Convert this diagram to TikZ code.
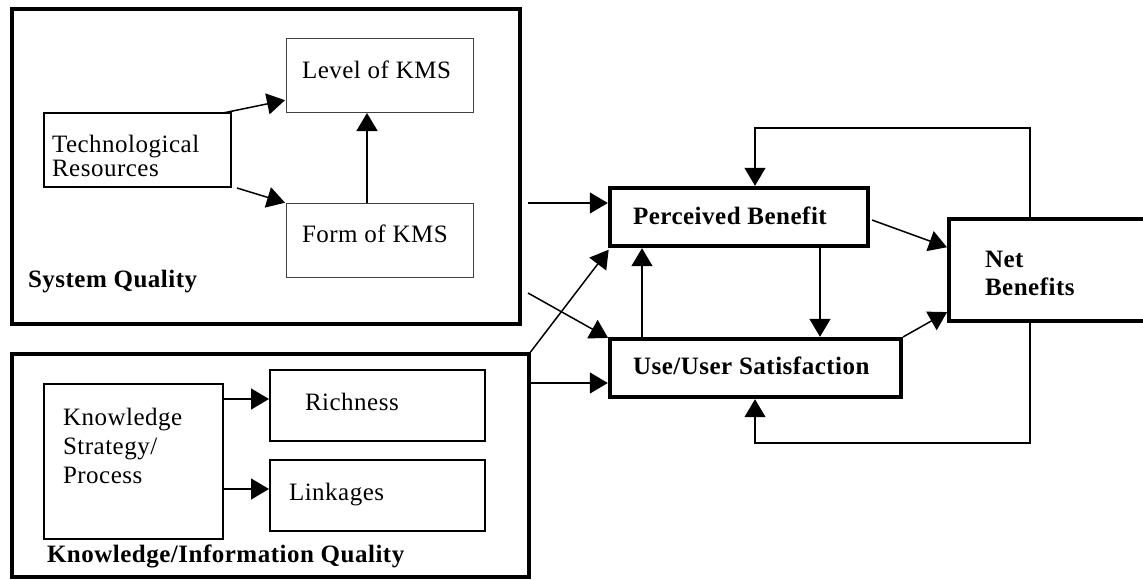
\documentclass[tikz,border=0pt]{standalone}
\usepackage{fontspec}
\setmainfont{Liberation Serif}[LetterSpace=2]
\usetikzlibrary{arrows.meta,calc}
\begin{document}
\begin{tikzpicture}[x=1pt,y=-1pt,
  every node/.style={inner sep=0pt,outer sep=0pt},
  heavy/.style={draw,rectangle,line width=4.5pt},
  mid/.style={draw,rectangle,line width=2pt},
  light/.style={draw=black!75,rectangle,line width=1pt},
  txt/.style={font=\fontsize{25}{24}\selectfont,anchor=base west,align=left},
  btxt/.style={font=\fontsize{25}{24}\selectfont\bfseries,anchor=base west,align=left},
  arr/.style={line width=1.5pt,-{Triangle[length=18pt,width=21pt]}},
  arrH/.style={arr,shorten >=2.2pt},
  arrM/.style={arr,shorten >=1pt},
  fb/.style={line width=1.3pt,-{Triangle[length=18pt,width=21pt]},shorten >=2.2pt}]
\useasboundingbox (0,0) rectangle (1143,579);
\clip (0,0) rectangle (1143,579);
% boxes
\node[heavy,minimum width=508pt,minimum height=315pt] (sq) at (266,166.5) {};
\node[heavy,minimum width=517pt,minimum height=223pt] (kq) at (270.5,465.5) {};
\node[light,minimum width=187pt,minimum height=74pt] (level) at (379.5,75) {};
\node[light,minimum width=187pt,minimum height=74pt] (form) at (379.5,240) {};
\node[mid,minimum width=187pt,minimum height=74pt] (tech) at (137.5,150) {};
\node[mid,minimum width=179pt,minimum height=155pt] (ksp) at (133.5,461.5) {};
\node[mid,minimum width=215pt,minimum height=71pt] (rich) at (377.5,405.5) {};
\node[mid,minimum width=215pt,minimum height=71pt] (link) at (377.5,495.5) {};
\node[heavy,minimum width=258pt,minimum height=58pt] (pb) at (739,217) {};
\node[heavy,minimum width=291pt,minimum height=58pt] (uus) at (755.5,368) {};
\node[heavy,minimum width=201pt,minimum height=102pt] (nb) at (1049.5,270) {};
% texts (multi-line nodes: base = last line)
\node[txt] (tlevel) at (302,78) {Level of KMS};
\node[txt] (tform) at (302,242) {Form of KMS};
\node[txt] (ttech) at (52,176) {Technological\\Resources};
\node[btxt] (tsq) at (28,287) {System Quality};
\node[txt] (tksp) at (63,483) {Knowledge\\[5pt]Strategy/\\[5pt]Process};
\node[txt] (trich) at (305,410) {Richness};
\node[txt] (tlink) at (289,500) {Linkages};
\node[btxt] (tkq) at (47,562) {Knowledge/Information Quality};
\node[btxt] (tpb) at (633,224) {Perceived Benefit};
\node[btxt] (tuus) at (633,374) {Use/User Satisfaction};
\node[btxt] (tnb) at (985,295) {Net\\[4pt]Benefits};
% connectors inside System Quality
\draw[arrM] ($(tech.north east)+(-8,0)$) -- ($(level.north west)+(0,62)$);
\draw[arrM] ($(tech.south east)+(6,1)$) -- (form.north west);
\draw[arrM] ($(form.north)+(-12.5,0)$) -- ($(level.south)+(-12.5,0)$);
% connectors inside Knowledge quality
\draw[arrM] ($(ksp.north east)+(0,15)$) -- ($(rich.north west)+(0,29)$);
\draw[arrM] ($(ksp.north east)+(0,105)$) -- ($(link.north west)+(0,29)$);
% to PB / UUS
\draw[arrH] ($(sq.north east)+(8,194)$) -- ($(pb.north west)+(0,15)$);
\draw[arrH] ($(sq.north east)+(8,284)$) -- (uus.north west);
\draw[arrH] (kq.north east) -- ($(pb.south west)+(0,2)$);
\draw[arrH] ($(kq.north east)+(1,29)$) -- ($(uus.north west)+(0,44)$);
\draw[arrH] ($(uus.north west)+(32,0)$) -- ($(pb.south west)+(32,0)$);
\draw[arrH] ($(pb.south west)+(210,0)$) -- ($(uus.north west)+(210,0)$);
% to NB
\draw[arrH] ($(pb.north east)+(4,32)$) -- ($(nb.north west)+(0,29)$);
\draw[arrH] ($(uus.north east)+(2,-2)$) -- ($(nb.south west)+(0,-10)$);
% feedback
\draw[fb] ($(nb.north west)+(81,0)$) |- ($(pb.north west)+(145,-60)$) -- ($(pb.north west)+(145,0)$);
\draw[fb] ($(nb.south west)+(81,0)$) |- ($(uus.south west)+(145,46)$) -- ($(uus.south west)+(145,0)$);
\end{tikzpicture}
\end{document}
